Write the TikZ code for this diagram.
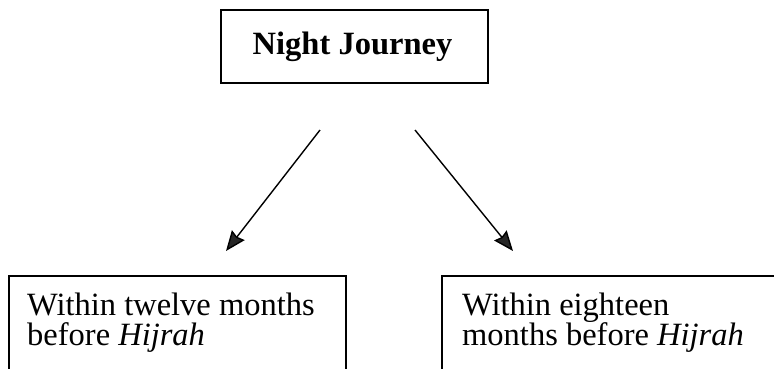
\documentclass[tikz,border=0pt]{standalone}
\usepackage{fontspec}
\setmainfont{Liberation Serif}
\usetikzlibrary{arrows.meta}
\begin{document}
\begin{tikzpicture}[x=1pt,y=-1pt,
  boxline/.style={draw=black,line width=1.5pt,inner sep=0pt},
  txt/.style={inner sep=0pt,align=left,font=\fontsize{32.5}{30}\selectfont},
  arr/.style={line width=1.4pt,draw=black,-{Stealth[length=20pt,width=16pt,inset=2pt,fill=black!85]}}]
\useasboundingbox (0,0) rectangle (774,368);
\clip (0,0) rectangle (774,368);
\fill[white] (0,0) rectangle (774,368);
% top box
\node[boxline,minimum width=267pt,minimum height=73pt] (T) at (354.5,46.5) {};
\node[inner sep=0pt,font=\fontsize{32.5}{30}\selectfont\bfseries] (Tt) at (352.5,47) {Night Journey};
% bottom boxes
\node[boxline,anchor=north west,minimum width=337pt,minimum height=150pt] (L) at (8,275) {};
\node[boxline,anchor=north west,minimum width=360pt,minimum height=150pt] (R) at (441,275) {};
\node[txt,anchor=north west] (Lt) at (27,293) {Within twelve months\\before \textit{Hijrah}};
\node[txt,anchor=north west] (Rt) at (462,293) {Within eighteen\\months before \textit{Hijrah}};
% arrows
\coordinate (a1) at (320,130);
\coordinate (a2) at (226,251);
\coordinate (b1) at (415,130);
\coordinate (b2) at (513,251);
\draw[arr] (a1) -- (a2);
\draw[arr] (b1) -- (b2);
\end{tikzpicture}
\end{document}
